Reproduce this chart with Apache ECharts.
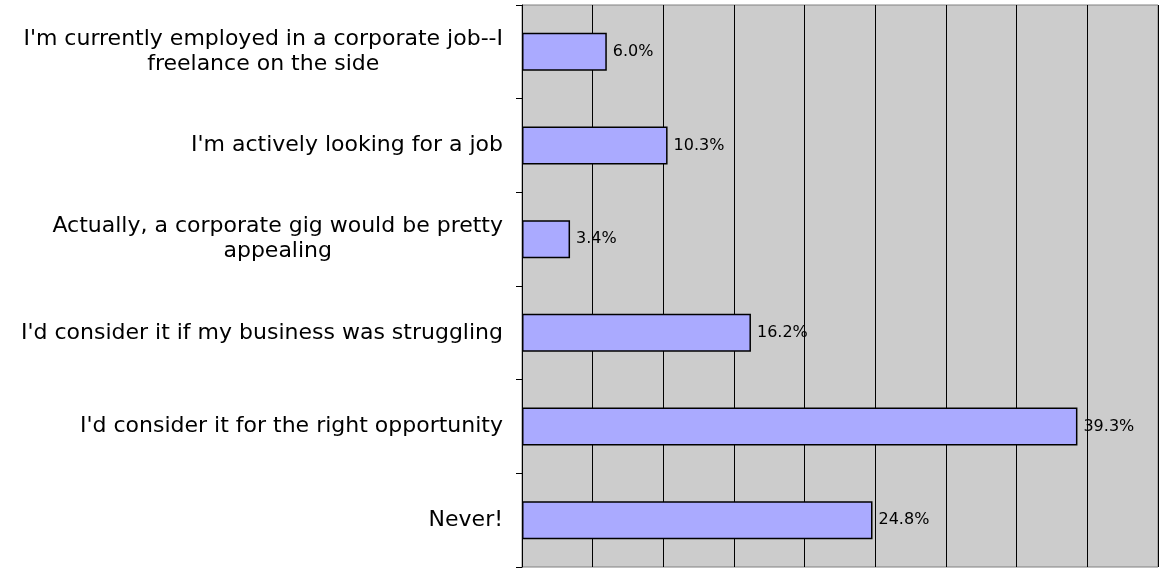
<!DOCTYPE html>
<html><head><meta charset="utf-8">
<script src="https://cdn.jsdelivr.net/npm/echarts@6/dist/echarts.min.js"></script>
<style>html,body{margin:0;padding:0;background:#fff}#c{width:1160px;height:572px}</style>
</head><body><div id="c"></div>
<script>
const categories = [
  "I'm currently employed in a corporate job--I\nfreelance on the side",
  "I'm actively looking for a job",
  "Actually, a corporate gig would be pretty\nappealing",
  "I'd consider it if my business was struggling",
  "I'd consider it for the right opportunity",
  "Never!"
];
const values = [6.0, 10.3, 3.4, 16.2, 39.3, 24.8];

const chart = echarts.init(document.getElementById('c'));
chart.setOption({
  animation: false,
  grid: { left: 522, right: 2, top: 5, bottom: 5, show: true, backgroundColor: '#cccccc', borderColor: '#808080', borderWidth: 1 },
  xAxis: {
    type: 'value', min: 0, max: 45, interval: 5,
    axisLabel: { show: false }, axisTick: { show: false }, axisLine: { show: false },
    splitLine: { show: true, lineStyle: { color: '#000', width: 1 } }
  },
  yAxis: {
    type: 'category', data: categories, inverse: true,
    axisLine: { show: true, lineStyle: { color: '#000', width: 1 } },
    axisTick: { show: true, length: 6, lineStyle: { color: '#000' } },
    axisLabel: {
      margin: 19, align: 'right', fontFamily: 'DejaVu Sans', fontSize: 22, color: '#000',
      formatter: function (v) { return v.split('\n').map(l => '{a|' + l + '}').join('\n'); },
      rich: { a: { align: 'center', fontFamily: 'DejaVu Sans', fontSize: 22, color: '#000', lineHeight: 25 } }
    }
  },
  series: [{
    type: 'bar', data: values, barWidth: 38,
    itemStyle: { color: '#aaaaff', borderColor: '#000', borderWidth: 1.5 },
    label: { show: true, position: 'right', distance: 6, formatter: p => p.value.toFixed(1) + '%', fontFamily: 'DejaVu Sans', fontSize: 16, color: '#000' }
  }]
});
</script></body></html>
